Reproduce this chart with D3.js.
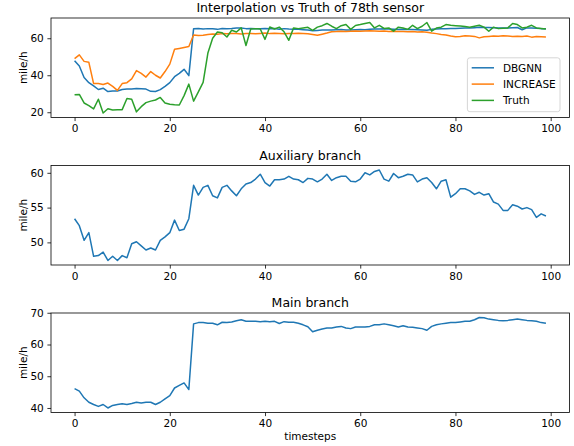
<!DOCTYPE html>
<html>
<head>
<meta charset="utf-8">
<script src="https://cdn.jsdelivr.net/npm/d3@7"></script>
<style>
body { margin: 0; background: #fff; }
text { font-family: "DejaVu Sans", sans-serif; fill: #000; }
</style>
</head>
<body>
<div id="chart"></div>
<script>
var steps = d3.range(100);

var dbgnn = [47.9, 45.0, 38.8, 36.0, 34.3, 32.3, 33.0, 31.2, 31.5, 31.5, 32.3, 32.5, 32.6, 32.8, 32.7, 32.5, 31.3, 31.2, 32.2, 34.0,
  36.0, 39.2, 41.0, 43.2, 39.8, 65.2, 65.3, 65.0, 65.2, 65.1, 64.8, 65.3, 65.2, 65.3, 65.5, 65.5, 65.2, 65.3, 65.2, 65.2,
  65.3, 65.1, 65.3, 64.9, 65.2, 65.0, 64.9, 64.8, 64.6, 64.4, 64.0, 64.2, 64.4, 64.5, 64.5, 64.6, 64.7, 64.5, 64.4, 64.6,
  64.7, 64.6, 64.8, 65.0, 65.0, 65.1, 65.0, 64.9, 64.7, 64.9, 64.7, 64.7, 64.6, 64.5, 64.3, 64.8, 65.0, 65.1, 65.2, 65.3,
  65.3, 65.4, 65.5, 65.5, 65.7, 65.9, 65.8, 65.8, 65.7, 65.6, 65.5, 65.6, 65.7, 65.8, 64.6, 65.6, 65.5, 65.4, 65.2, 65.1];

var increase = [49.0, 51.0, 47.5, 47.0, 35.5, 35.5, 35.0, 35.8, 34.0, 31.8, 35.5, 36.0, 38.0, 42.5, 41.0, 39.0, 42.0, 40.0, 38.5, 42.0,
  46.0, 54.0, 54.5, 55.0, 55.5, 61.8, 61.5, 61.6, 62.0, 62.3, 62.2, 62.5, 62.4, 62.6, 62.5, 62.3, 62.6, 62.5, 62.4, 62.6,
  62.8, 62.5, 62.7, 62.6, 62.4, 62.6, 62.5, 62.7, 62.6, 62.4, 62.0, 61.6, 62.2, 62.8, 63.5, 63.6, 63.8, 63.7, 63.8, 63.9,
  63.8, 63.9, 64.0, 63.9, 63.8, 63.9, 63.7, 63.8, 63.6, 63.7, 63.5, 63.6, 63.4, 63.5, 63.3, 62.8, 62.5, 62.0, 61.8, 61.2,
  60.8, 60.9, 61.3, 61.2, 61.0, 60.2, 60.8, 61.0, 61.2, 61.1, 61.3, 61.2, 61.0, 61.1, 60.9, 61.2, 60.6, 60.9, 60.8, 60.7];

var truth = [29.4, 29.6, 25.0, 23.6, 21.8, 27.0, 19.6, 21.9, 21.2, 21.3, 21.4, 27.4, 27.0, 20.2, 23.0, 25.2, 26.0, 26.6, 28.0, 25.0,
  24.3, 24.0, 23.9, 29.0, 35.2, 26.0, 31.0, 36.1, 52.0, 60.0, 63.4, 63.0, 60.7, 64.3, 63.4, 65.6, 56.1, 65.0, 65.2, 65.0,
  59.4, 66.1, 65.0, 66.0, 63.5, 58.9, 65.6, 65.2, 65.6, 65.9, 64.3, 66.0, 66.8, 68.0, 66.5, 65.2, 66.8, 67.4, 64.8, 66.9,
  67.4, 68.0, 68.5, 65.6, 67.0, 65.3, 65.6, 63.8, 66.0, 65.5, 64.8, 67.0, 65.2, 66.5, 68.5, 63.8, 65.5, 66.0, 67.4, 67.0,
  66.8, 66.6, 66.3, 66.0, 66.5, 67.0, 66.0, 63.8, 66.0, 65.2, 65.4, 65.6, 68.0, 67.4, 65.6, 66.0, 67.0, 65.6, 65.3, 65.0];

var auxiliary = [53.4, 52.4, 50.3, 51.4, 48.0, 48.1, 48.6, 47.4, 48.0, 47.4, 48.1, 47.8, 49.8, 50.1, 49.5, 48.9, 49.2, 48.9, 50.3, 50.8,
  51.4, 53.2, 51.7, 51.9, 53.4, 58.2, 56.8, 57.9, 58.2, 56.7, 56.4, 57.9, 58.2, 57.4, 56.7, 57.7, 58.4, 58.6, 59.1, 59.8,
  58.6, 58.1, 59.0, 59.0, 59.1, 59.5, 59.1, 59.0, 58.6, 59.2, 59.1, 58.7, 59.1, 59.8, 58.9, 59.3, 59.5, 59.5, 58.8, 58.7,
  59.1, 60.0, 59.7, 60.2, 60.4, 59.1, 58.8, 59.9, 59.3, 59.5, 59.8, 59.7, 58.7, 59.1, 59.3, 58.6, 57.7, 58.8, 59.0, 56.5,
  57.0, 57.7, 57.7, 57.4, 56.9, 57.2, 56.8, 57.0, 55.8, 55.5, 54.6, 54.6, 55.4, 55.2, 54.8, 55.0, 54.7, 53.6, 54.1, 53.8];

var mainBranch = [46.1, 45.3, 43.2, 41.8, 41.1, 40.5, 41.1, 40.0, 40.8, 41.1, 41.3, 41.1, 41.4, 41.8, 41.6, 41.8, 41.8, 41.1, 41.8, 42.9,
  43.9, 46.3, 47.1, 47.9, 45.8, 66.5, 66.9, 66.9, 66.7, 66.7, 66.2, 67.0, 66.9, 67.1, 67.5, 67.8, 67.3, 67.3, 67.3, 67.2,
  67.3, 67.2, 67.3, 66.6, 67.2, 67.0, 67.0, 66.7, 66.2, 65.6, 64.0, 64.5, 64.9, 65.2, 65.2, 65.5, 65.7, 65.2, 65.0, 65.5,
  65.5, 65.5, 65.7, 66.2, 66.2, 66.5, 66.2, 65.9, 65.5, 65.9, 65.5, 65.4, 65.2, 65.0, 64.5, 65.7, 66.2, 66.5, 66.7, 66.9,
  66.9, 67.1, 67.3, 67.3, 67.8, 68.5, 68.4, 68.0, 67.8, 67.6, 67.5, 67.6, 67.8, 68.0, 67.8, 67.6, 67.5, 67.3, 66.9, 66.7];

var xTicks = [0, 20, 40, 60, 80, 100];
var topTicks = [20, 40, 60];
var auxTicks = [50, 55, 60];
var mainTicks = [40, 50, 60, 70];
var seriesNames = ["DBGNN", "INCREASE", "Truth"];
var colors = ["#1f77b4", "#ff7f0e", "#2ca02c"];

var cfg = {
  w: 574,
  h: 446,
  left: 51,
  right: 569.5,
  ph: 99.5,
  tops: [18, 165.5, 313],
  tick: 3.6,
  pad: 3.6,
  fontSize: 10.5,
  titleSize: 12.5
};

var svg = d3.select("#chart")
  .append("svg")
  .attr("width", cfg.w)
  .attr("height", cfg.h);

// matplotlib style 5% margins
function withMargin(ext) {
  var m = (ext[1] - ext[0]) * 0.05;
  return [ext[0] - m, ext[1] + m];
}

var x = d3.scaleLinear()
  .domain(withMargin(d3.extent(steps)))
  .range([cfg.left, cfg.right]);

function panel(top, series, cols, yTicks, title) {
  var bottom = top + cfg.ph;
  var all = [].concat.apply([], series);
  var y = d3.scaleLinear()
    .domain(withMargin(d3.extent(all)))
    .range([bottom, top]);

  var g = svg.append("g");

  var line = d3.line()
    .x(function (d, i) { return x(steps[i]); })
    .y(function (d) { return y(d); });

  series.forEach(function (s, k) {
    g.append("path")
      .datum(s)
      .attr("d", line)
      .attr("fill", "none")
      .attr("stroke", cols[k])
      .attr("stroke-width", 1.5)
      .attr("stroke-linejoin", "round");
  });

  // frame
  g.append("rect")
    .attr("x", cfg.left)
    .attr("y", top)
    .attr("width", cfg.right - cfg.left)
    .attr("height", cfg.ph)
    .attr("fill", "none")
    .attr("stroke", "#000")
    .attr("stroke-width", 0.8);

  var xa = g.append("g")
    .attr("transform", "translate(0," + bottom + ")")
    .call(d3.axisBottom(x).tickValues(xTicks).tickSize(cfg.tick).tickPadding(cfg.pad).tickFormat(d3.format("d")));
  var ya = g.append("g")
    .attr("transform", "translate(" + cfg.left + ",0)")
    .call(d3.axisLeft(y).tickValues(yTicks).tickSize(cfg.tick).tickPadding(cfg.pad).tickFormat(d3.format("d")));

  [xa, ya].forEach(function (a) {
    a.select(".domain").remove();
    a.selectAll("line").attr("stroke", "#000").attr("stroke-width", 0.8);
    a.selectAll("text")
      .attr("fill", "#000")
      .style("font-family", "DejaVu Sans")
      .style("font-size", cfg.fontSize + "px");
  });

  g.append("text")
    .attr("x", (cfg.left + cfg.right) / 2)
    .attr("y", top - 6)
    .attr("text-anchor", "middle")
    .style("font-size", cfg.titleSize + "px")
    .text(title);

  g.append("text")
    .attr("transform", "translate(27," + (top + cfg.ph / 2) + ") rotate(-90)")
    .attr("text-anchor", "middle")
    .style("font-size", cfg.fontSize + "px")
    .text("mile/h");

  return g;
}

var g1 = panel(cfg.tops[0], [dbgnn, increase, truth], colors, topTicks, "Interpolation vs Truth of 78th sensor");
panel(cfg.tops[1], [auxiliary], colors, auxTicks, "Auxiliary branch");
panel(cfg.tops[2], [mainBranch], colors, mainTicks, "Main branch");

svg.append("text")
  .attr("x", (cfg.left + cfg.right) / 2)
  .attr("y", cfg.tops[2] + cfg.ph + 27.5)
  .attr("text-anchor", "middle")
  .style("font-size", cfg.fontSize + "px")
  .text("timesteps");

//Legend
var rowH = 16.3, lgPad = 4.3, handle = 22.3, gap = 9;
var lg = g1.append("g");
var box = lg.append("rect");
var labels = lg.selectAll(".lab")
  .data(seriesNames)
  .enter()
  .append("text")
  .style("font-size", cfg.fontSize + "px")
  .text(function (d) { return d; });
var tw = d3.max(labels.nodes(), function (n) { return n.getComputedTextLength(); });
var lw = lgPad + handle + gap + tw + lgPad;
var lh = 10 + rowH * 2 + 11.3;
var lx = cfg.right - 9.5 - lw;
var ly = cfg.tops[0] + cfg.ph - 5.8 - lh;

box.attr("x", lx)
  .attr("y", ly)
  .attr("width", lw)
  .attr("height", lh)
  .attr("rx", 2.5)
  .attr("fill", "#fff")
  .attr("fill-opacity", 0.8)
  .attr("stroke", "#cccccc")
  .attr("stroke-width", 0.8);

labels.attr("x", lx + lgPad + handle + gap)
  .attr("y", function (d, i) { return ly + 10 + i * rowH; })
  .attr("dy", "0.36em");

lg.selectAll(".hd")
  .data(seriesNames)
  .enter()
  .append("line")
  .attr("x1", lx + lgPad)
  .attr("x2", lx + lgPad + handle)
  .attr("y1", function (d, i) { return ly + 10 + i * rowH; })
  .attr("y2", function (d, i) { return ly + 10 + i * rowH; })
  .attr("stroke", function (d, i) { return colors[i]; })
  .attr("stroke-width", 1.5);
</script>
</body>
</html>
